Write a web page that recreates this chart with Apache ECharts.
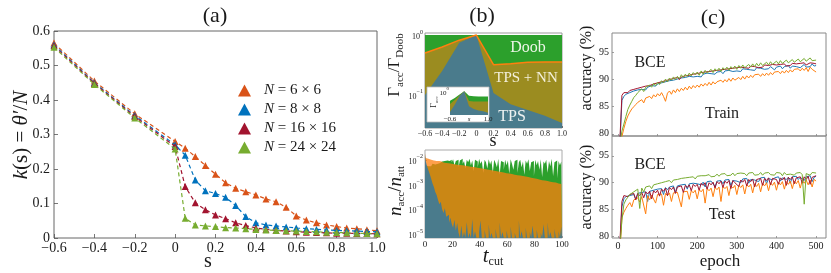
<!DOCTYPE html>
<html><head><meta charset="utf-8">
<script src="https://cdn.jsdelivr.net/npm/echarts@6/dist/echarts.min.js"></script>
<style>html,body{margin:0;padding:0;background:#fff}#c{width:831px;height:273px}</style>
</head><body><div id="c"></div>
<script>
// ---------- Panel (a) ----------
const S_A = [-0.6,-0.4,-0.2,0,0.05,0.1,0.15,0.2,0.25,0.3,0.35,0.4,0.45,0.5,0.55,0.6,0.65,0.7,0.75,0.8,0.85,0.9,0.95,1.0];
const K_6 = [0.565,0.455,0.36,0.28,0.26,0.236,0.21,0.185,0.16,0.144,0.134,0.125,0.113,0.105,0.089,0.064,0.052,0.044,0.038,0.033,0.029,0.027,0.024,0.021];
const K_8 = [0.56,0.45,0.355,0.27,0.24,0.168,0.137,0.129,0.118,0.094,0.062,0.044,0.038,0.035,0.032,0.029,0.027,0.025,0.023,0.022,0.021,0.02,0.019,0.018];
const K_16 = [0.557,0.448,0.352,0.265,0.149,0.102,0.082,0.067,0.056,0.044,0.036,0.029,0.025,0.022,0.02,0.018,0.017,0.016,0.015,0.014,0.014,0.013,0.013,0.012];
const K_24 = [0.553,0.445,0.348,0.258,0.057,0.038,0.035,0.033,0.03,0.029,0.027,0.025,0.023,0.022,0.021,0.02,0.019,0.018,0.017,0.016,0.015,0.014,0.013,0.012];
const NAMES_A = ['N = 6 × 6','N = 8 × 8','N = 16 × 16','N = 24 × 24'];

// ---------- Panel (b) top: ratios ----------
const S_B = [-0.6,-0.4,-0.2,0,0.2,0.4,0.6,0.8,1.0];
const R_DOOB = [1,1,1,1,1,1,1,1,1];
const R_NN = [0.5,0.63,0.82,1.0,0.32,0.33,0.35,0.355,0.355];
const R_TPS = [0.1,0.25,0.74,1.0,0.108,0.07,0.056,0.045,0.034];
// inset: absolute acceptance rates
const IN_DOOB = [0.14,0.25,0.5,1.0,0.4,0.35,0.33,0.33,0.33];
const IN_NN = [0.07,0.16,0.41,1.0,0.13,0.12,0.12,0.12,0.12];
const IN_TPS = [0.013,0.06,0.37,1.0,0.043,0.025,0.018,0.015,0.011];

// ---------- Panel (b) bottom: histograms over t_cut = 0..100 ----------
const T_CUT = Array.from({length:101},(_,i)=>i);
const H_DOOB = [1.4e-2,6e-3,5.5e-3,6.5e-3,5.5e-3,6e-3,7e-3,6.5e-3,7.5e-3,7e-3,
 8e-3,7.5e-3,8.5e-3,8e-3,9e-3,7.5e-3,9.5e-3,8.5e-3,9e-3,1e-2,
 8e-3,1.05e-2,6e-3,9e-3,1e-2,5e-3,9.5e-3,1.1e-2,7e-3,9e-3,
 4.5e-3,1e-2,8e-3,1.1e-2,6e-3,9.5e-3,3.5e-3,1e-2,8.5e-3,5e-3,
 1.1e-2,7e-3,9e-3,3e-3,1e-2,8e-3,4.5e-3,1.05e-2,6.5e-3,9.5e-3,
 3e-3,1e-2,7.5e-3,5e-3,1.1e-2,2.5e-3,9e-3,8e-3,4e-3,1e-2,
 6e-3,9.5e-3,2.8e-3,1.05e-2,7e-3,4e-3,9e-3,1e-2,3e-3,8e-3,
 1e-2,5e-3,8.5e-3,2.5e-3,9.5e-3,7e-3,1.05e-2,3.5e-3,8e-3,9e-3,
 2.2e-3,1e-2,6e-3,9e-3,4e-3,1.05e-2,2e-3,8.5e-3,7e-3,1e-2,
 3e-3,9e-3,5.5e-3,1.1e-2,2.2e-3,8e-3,9.5e-3,1.8e-3,9e-3,6e-3,8.5e-3];
const H_NN = [1.8e-2,1.2e-2,1.1e-2,1.15e-2,1.0e-2,1.05e-2,9.5e-3,1.0e-2,9e-3,8.5e-3,
 9e-3,8e-3,8.5e-3,7.8e-3,8.2e-3,7.5e-3,7.8e-3,7.2e-3,7.6e-3,7e-3,
 7.2e-3,6.6e-3,7e-3,6.4e-3,6.8e-3,6.2e-3,6.5e-3,6e-3,6.3e-3,5.8e-3,
 6e-3,5.5e-3,5.8e-3,5.3e-3,5.6e-3,5.1e-3,5.3e-3,4.9e-3,5.1e-3,4.7e-3,
 4.9e-3,4.5e-3,4.7e-3,4.3e-3,4.5e-3,4.1e-3,4.3e-3,3.9e-3,4.1e-3,3.7e-3,
 3.9e-3,3.5e-3,3.7e-3,3.4e-3,3.5e-3,3.2e-3,3.4e-3,3.1e-3,3.2e-3,2.9e-3,
 3.1e-3,2.8e-3,2.9e-3,2.7e-3,2.8e-3,2.5e-3,2.7e-3,2.4e-3,2.5e-3,2.3e-3,
 2.4e-3,2.2e-3,2.3e-3,2.1e-3,2.2e-3,2e-3,2.1e-3,1.9e-3,2e-3,1.8e-3,
 1.9e-3,1.7e-3,1.8e-3,1.6e-3,1.7e-3,1.5e-3,1.6e-3,1.45e-3,1.5e-3,1.4e-3,
 1.45e-3,1.3e-3,1.4e-3,1.25e-3,1.3e-3,1.2e-3,1.25e-3,1.1e-3,1.2e-3,1.05e-3,1.1e-3];
const H_TPS = [1.6e-2,9e-3,5.5e-3,3.8e-3,2.6e-3,1.7e-3,1.1e-3,8e-4,5e-4,3.8e-4,
 2.4e-4,1.6e-4,2e-4,1e-4,7e-5,1.1e-4,5e-5,6e-5,2.8e-5,4.5e-5,
 2.6e-5,1.8e-5,3.8e-5,1.4e-5,2.8e-5,1.1e-5,7e-6,2.2e-5,7e-6,1.2e-5,
 7e-6,3e-5,7e-6,1.1e-5,7e-6,4e-5,7e-6,1.3e-5,7e-6,7e-6,
 1.2e-5,3.5e-5,7e-6,7e-6,1.5e-5,7e-6,7e-6,2.5e-5,7e-6,1.1e-5,
 7e-6,7e-6,1.6e-5,7e-6,7e-6,3e-5,7e-6,1.2e-5,7e-6,7e-6,
 1.4e-5,7e-6,7e-6,2e-5,7e-6,7e-6,1.1e-5,7e-6,7e-6,3.5e-5,
 7e-6,1.3e-5,7e-6,7e-6,1.8e-5,7e-6,7e-6,1.2e-5,7e-6,2.2e-5,
 7e-6,7e-6,1.5e-5,7e-6,7e-6,1.1e-5,7e-6,2.5e-5,7e-6,7e-6,
 3e-5,7e-6,1.2e-5,7e-6,7e-6,1.6e-5,7e-6,7e-6,1.3e-5,7e-6,2e-5];

// ---------- Panel (c): accuracy vs epoch (sampled every 5 epochs) ----------
const EPOCHS = Array.from({length:100},(_,i)=>5*(i+1));
const TR_BLUE = [78.0,86.2,86.9,87.3,87.1,87.6,87.4,87.9,87.6,88.1,
 87.8,88.2,88.5,88.1,88.6,88.4,88.9,88.6,88.8,89.2,
 88.9,89.4,89.1,89.6,89.3,89.8,89.5,89.9,89.7,90.1,
 89.8,90.3,90.0,90.4,90.2,90.6,90.3,90.5,90.8,90.6,
 90.9,90.5,91.0,90.8,91.2,90.9,91.1,91.3,91.0,91.4,
 91.2,91.5,91.1,91.6,91.3,91.7,91.4,91.5,91.8,91.6,
 91.9,91.5,92.0,91.7,91.9,92.1,91.8,92.0,91.7,92.2,
 91.9,92.1,92.3,91.9,92.2,92.0,92.4,92.1,91.8,92.3,
 92.2,92.5,92.0,92.4,92.2,92.6,92.1,92.5,92.3,92.4,
 92.7,92.2,92.5,92.8,92.3,92.6,92.4,92.9,92.5,92.6];
const TR_RED = [79.0,87.1,87.6,87.9,87.6,88.0,87.8,88.2,87.9,88.4,
 88.1,88.6,88.3,88.8,88.5,88.9,88.7,89.2,88.9,89.4,
 89.1,89.6,89.3,89.8,89.5,90.0,89.7,90.2,89.9,90.4,
 90.0,90.5,90.2,90.7,90.4,90.8,90.5,91.0,90.7,91.1,
 90.8,91.3,91.0,91.4,91.1,91.5,91.2,91.6,91.3,91.7,
 91.4,91.8,91.5,91.9,91.6,92.0,91.7,92.1,91.8,92.2,
 91.9,92.3,92.0,92.2,92.4,92.1,92.5,92.2,92.4,92.6,
 92.2,92.5,92.3,92.7,92.4,92.6,92.3,92.8,92.5,92.7,
 92.4,92.8,92.6,92.9,92.5,92.8,92.6,93.0,92.7,92.9,
 92.6,93.0,92.8,93.1,92.7,92.9,93.1,92.8,93.0,92.9];
const TR_GREEN = [78.0,80.5,81.8,83.2,84.5,85.3,86.0,86.7,87.1,87.6,
 87.9,88.3,87.8,88.6,88.4,89.0,88.6,89.3,88.9,89.5,
 89.1,89.8,89.4,90.1,89.6,90.3,89.9,90.5,90.0,90.6,
 90.2,90.9,90.4,91.0,90.6,91.2,90.7,91.3,90.9,91.4,
 90.8,91.6,91.0,91.7,91.2,91.5,91.9,91.3,92.0,91.6,
 92.1,91.5,92.2,91.8,92.3,91.7,92.4,92.0,92.5,91.9,
 92.6,92.1,92.7,92.2,92.5,92.8,92.3,92.9,92.4,93.0,
 92.5,93.1,92.6,92.9,93.2,92.7,93.3,92.8,93.1,93.4,
 92.9,93.5,93.0,93.3,93.6,93.1,93.4,93.7,93.2,93.5,
 93.8,93.3,93.6,93.9,93.4,93.7,94.0,93.5,93.8,93.6];
const TR_ORANGE = [77.0,79.5,81.0,82.3,83.3,84.0,84.6,85.0,85.4,85.8,
 86.1,86.3,85.7,86.6,86.4,86.9,86.5,87.2,86.8,87.4,
 87.0,87.6,86.9,86.0,87.5,87.9,87.3,88.1,87.6,88.3,
 87.8,88.4,88.0,88.6,88.1,88.8,88.3,88.9,88.5,89.0,
 88.6,89.2,88.8,89.3,88.9,89.5,89.0,89.6,89.2,89.6,
 89.3,89.9,89.5,90.0,89.6,90.2,89.7,90.3,89.9,90.1,
 90.4,90.0,90.6,90.1,90.7,90.3,90.8,90.4,90.9,90.6,
 91.0,90.6,91.1,90.7,91.2,90.8,91.3,90.9,91.4,91.1,
 91.5,91.1,91.6,91.2,91.7,91.3,91.8,91.4,91.9,91.6,
 92.0,91.6,92.1,91.7,92.2,91.5,92.3,91.9,92.1,91.4];
const TE_BLUE = [78.0,85.5,87.0,87.4,87.2,87.6,87.3,87.8,86.9,88.0,
 87.7,88.2,87.9,88.3,86.5,88.4,88.1,88.6,88.3,88.8,
 88.5,88.9,87.8,89.1,88.7,89.2,88.9,89.4,88.2,89.4,
 89.1,89.6,89.3,89.7,88.8,89.8,89.5,89.9,89.6,89.8,
 90.0,89.6,90.1,89.2,90.2,89.9,90.3,90.0,89.3,90.3,
 90.1,90.4,89.8,90.5,90.2,90.6,89.5,90.4,90.7,90.3,
 90.6,90.0,90.7,90.4,90.8,89.9,90.6,90.9,90.5,90.7,
 90.2,90.9,90.6,91.0,89.8,90.8,91.0,90.5,90.9,90.7,
 91.1,90.3,90.9,91.1,90.6,91.0,89.9,91.1,90.8,91.2,
 90.6,91.0,91.2,90.4,91.1,90.9,91.3,90.2,91.0,91.2];
const TE_RED = [79.0,86.5,87.6,87.7,87.4,87.8,87.5,88.0,86.8,88.0,
 87.6,88.2,87.2,88.3,87.9,88.4,87.0,88.5,88.1,88.6,
 87.5,88.8,88.4,89.0,87.6,89.1,88.7,89.2,88.0,89.2,
 88.9,89.4,88.2,89.5,89.1,89.6,88.5,89.7,89.3,89.7,
 88.6,89.9,89.5,90.0,88.8,90.0,89.6,90.1,89.0,90.2,
 89.8,90.3,89.1,90.3,89.9,90.4,88.9,90.4,90.0,90.2,
 89.3,90.5,90.1,90.6,89.4,90.6,90.2,90.7,89.2,90.6,
 90.3,90.8,89.5,90.8,90.4,90.9,89.6,90.8,90.5,90.6,
 89.7,90.9,90.5,91.0,89.5,91.0,90.6,91.1,89.8,90.9,
 90.7,91.1,89.9,91.1,90.6,91.2,89.7,91.0,90.8,91.3];
const TE_GREEN = [78.0,83.0,86.0,86.8,87.3,87.8,87.5,88.3,88.0,88.8,
 85.2,89.0,88.3,89.2,89.0,89.4,88.9,89.6,89.3,89.8,
 89.5,90.0,89.7,90.2,89.9,90.4,90.0,90.5,90.3,90.6,
 90.4,90.8,90.5,90.9,90.6,91.0,90.8,91.1,90.7,91.2,
 90.9,91.3,91.0,91.3,91.1,91.5,91.1,91.4,91.2,91.6,
 91.2,91.6,91.3,91.7,91.3,91.6,91.4,91.8,91.3,91.7,
 91.4,91.8,91.5,91.7,91.3,91.8,91.5,91.9,91.4,91.7,
 91.5,91.9,91.4,91.8,91.6,91.9,91.5,91.8,91.4,91.9,
 91.6,91.8,91.3,91.9,91.5,91.8,91.6,91.9,91.4,91.8,
 91.6,91.9,91.5,86.0,91.7,91.8,91.4,91.9,91.6,91.8];
const TE_ORANGE = [77.0,83.5,84.5,85.2,85.8,86.3,85.5,86.8,87.0,87.2,
 86.4,87.4,87.5,84.2,87.6,86.8,87.7,87.4,86.2,87.8,
 87.5,87.9,85.8,88.0,87.6,88.1,86.5,88.1,87.8,88.2,
 87.9,85.5,88.3,88.0,88.4,86.9,88.5,88.1,88.6,87.0,
 88.7,88.3,88.8,86.2,88.9,88.5,89.0,87.4,89.1,88.7,
 89.2,86.5,89.3,88.9,89.3,87.6,89.4,89.0,89.5,87.8,
 89.5,89.1,89.6,87.9,89.7,89.2,89.7,88.1,89.8,89.3,
 89.9,88.3,89.9,89.4,90.0,88.5,90.0,89.5,90.1,88.6,
 90.1,89.6,90.2,88.8,90.2,89.7,90.3,88.9,90.3,89.8,
 90.4,89.0,90.4,89.9,90.5,89.6,90.5,89.2,90.6,90.3];

// ---------- styling ----------
const F = "'Liberation Serif','Times New Roman',serif";
const TXT = '#1a1a1a';
const pair = (xs, ys) => xs.map((x, i) => [x, ys[i]]);
function fmtS(v){ if (Math.abs(v) < 1e-9) return '0'; return (v < 0 ? '−' : '') + Math.abs(v).toFixed(1); }
function fmtPow(v){ const e = Math.log10(v), r = Math.round(e); if (Math.abs(e - r) > 0.02) return ''; return '{b|10}{p|' + (r < 0 ? '−' + (-r) : r) + '}'; }
const powRich = (fs) => ({ b:{fontFamily:F,fontSize:fs,color:TXT,verticalAlign:'bottom',lineHeight:fs+4}, p:{fontFamily:F,fontSize:Math.round(fs*0.7),color:TXT,verticalAlign:'top'} });

function grid(l,t,w,h,bc,z){ return {left:l,top:t,width:w,height:h,show:true,borderColor:bc,borderWidth:1,backgroundColor:'transparent',containLabel:false,outerBoundsMode:'none',z:z||0}; }
function tick(len,c){ return {show:true,inside:true,length:len,lineStyle:{color:c||'#555',width:0.8}}; }
const NOLINE = {show:false, onZero:false};

const chart = echarts.init(document.getElementById('c'), null, {renderer:'canvas'});

const colA = ['#d95319','#0072bd','#a2142f','#77ac30'];
const dataA = [K_6, K_8, K_16, K_24];
const seriesA = dataA.map((d, i) => ({
  name: NAMES_A[i], type:'line', xAxisIndex:0, yAxisIndex:0, data: pair(S_A, d),
  symbol:'triangle', symbolSize:7, itemStyle:{color:colA[i]},
  lineStyle:{color:colA[i], width:1.2, type:[4,3]}, z:3+i
}));

function area(xi, yi, data, color, z){ return {type:'line', xAxisIndex:xi, yAxisIndex:yi, data, symbol:'none', lineStyle:{opacity:0}, areaStyle:{color, opacity:1}, z}; }
function hist(data, color, z){ return {type:'line', step:'middle', xAxisIndex:3, yAxisIndex:3, data: pair(T_CUT, data), symbol:'none', lineStyle:{opacity:0}, areaStyle:{color, opacity:1}, z}; }
function acc(xi, data, color, z){ return {type:'line', xAxisIndex:xi, yAxisIndex:xi, data: pair(EPOCHS, data), symbol:'none', lineStyle:{color, width:1}, z, clip:true}; }

const cB='#1f77b4', cR='#a2142f', cO='#ff7f0e', cG='#77ac30';

const option = {
  animation:false,
  backgroundColor:'#fff',
  grid:[
    grid(54,31,323,207,'#666'),
    grid(425,33,137,95,'#999'),
    grid(450,90,38,25,'#999',6),
    grid(425,150,137,88,'#aaa'),
    grid(612,33,214,103,'#888'),
    grid(612,136,214,102,'#888')
  ],
  legend:{
    data:NAMES_A, orient:'vertical', left:233, top:77, itemWidth:13, itemHeight:12, itemGap:2,
    icon:'triangle', selectedMode:false,
    formatter: n => '{sp|}{i|N}{t|' + n.slice(1) + '}',
    textStyle:{fontFamily:F, fontSize:15, color:TXT, lineHeight:17,
      rich:{sp:{width:8}, i:{fontFamily:F,fontSize:15,fontStyle:'italic',color:TXT,lineHeight:17}, t:{fontFamily:F,fontSize:15,color:TXT,lineHeight:17}}}
  },
  xAxis:[
    {gridIndex:0,type:'value',min:-0.6,max:1.0,interval:0.2,axisLine:NOLINE,axisTick:tick(4),splitLine:{show:false},
      axisLabel:{fontFamily:F,fontSize:14,color:TXT,margin:3,formatter:fmtS}},
    {gridIndex:1,type:'value',min:-0.6,max:1.0,interval:0.2,axisLine:NOLINE,axisTick:tick(2),splitLine:{show:false},
      axisLabel:{fontFamily:F,fontSize:8,color:TXT,margin:2,formatter:fmtS}},
    {gridIndex:2,type:'value',min:-0.6,max:1.0,interval:0.8,axisLine:NOLINE,axisTick:{show:false},splitLine:{show:false},z:6,
      axisLabel:{fontFamily:F,fontSize:7,color:TXT,margin:1,formatter:v=>Math.abs(v-0.2)<1e-6?'{i|s}':fmtS(v),rich:{i:{fontFamily:F,fontSize:7,fontStyle:'italic',color:TXT}}}},
    {gridIndex:3,type:'value',min:0,max:100,interval:20,axisLine:NOLINE,axisTick:tick(2,'#888'),splitLine:{show:false},
      axisLabel:{fontFamily:F,fontSize:9,color:TXT,margin:2}},
    {gridIndex:4,type:'value',min:-15,max:525,splitNumber:5,axisLine:NOLINE,axisTick:tick(2,'#888'),splitLine:{show:false},
      axisLabel:{show:false}},
    {gridIndex:5,type:'value',min:-15,max:525,splitNumber:5,axisLine:NOLINE,axisTick:tick(2,'#888'),splitLine:{show:false},
      axisLabel:{fontFamily:F,fontSize:10,color:TXT,margin:3,showMinLabel:false,showMaxLabel:false}}
  ],
  yAxis:[
    {gridIndex:0,type:'value',min:0,max:0.6,interval:0.1,axisLine:NOLINE,axisTick:tick(4),splitLine:{show:false},
      axisLabel:{fontFamily:F,fontSize:14,color:TXT,margin:4,formatter:v=>v===0?'0':v.toFixed(1)}},
    {gridIndex:1,type:'log',logBase:10,min:0.028,max:1.08,splitNumber:2,axisLine:NOLINE,axisTick:{show:false},splitLine:{show:false},
      axisLabel:{margin:2,showMinLabel:false,showMaxLabel:false,formatter:fmtPow,rich:powRich(8)}},
    {gridIndex:2,type:'log',logBase:10,min:0.007,max:1.3,splitNumber:1,axisLine:NOLINE,axisTick:{show:false},splitLine:{show:false},z:6,
      axisLabel:{margin:1,showMinLabel:false,showMaxLabel:false,formatter:fmtPow,rich:powRich(7)}},
    {gridIndex:3,type:'log',logBase:10,min:6.9e-6,max:0.025,splitNumber:4,axisLine:NOLINE,axisTick:tick(2,'#888'),splitLine:{show:false},
      axisLabel:{margin:2,showMinLabel:false,showMaxLabel:false,formatter:fmtPow,rich:powRich(8)}},
    {gridIndex:4,type:'value',min:79.6,max:98.6,splitNumber:4,axisLine:NOLINE,axisTick:tick(2,'#888'),splitLine:{show:false},
      axisLabel:{fontFamily:F,fontSize:10,color:TXT,margin:3,showMinLabel:false,showMaxLabel:false}},
    {gridIndex:5,type:'value',min:79.7,max:98.7,splitNumber:4,axisLine:NOLINE,axisTick:tick(2,'#888'),splitLine:{show:false},
      axisLabel:{fontFamily:F,fontSize:10,color:TXT,margin:3,showMinLabel:false,showMaxLabel:false}}
  ],
  series:[
    ...seriesA,
    area(1,1,pair(S_B,R_DOOB),'#2ca02c',2),
    area(1,1,pair(S_B,R_NN),'#9b8c20',3),
    area(1,1,pair(S_B,R_TPS),'#4a7b8c',4),
    {type:'line',xAxisIndex:1,yAxisIndex:1,data:pair(S_B,R_NN),symbol:'none',lineStyle:{color:'#ff7f0e',width:1.5},z:5},
    area(2,2,pair(S_B,IN_DOOB),'#2ca02c',7),
    area(2,2,pair(S_B,IN_NN),'#9b8c20',8),
    area(2,2,pair(S_B,IN_TPS),'#4a7b8c',9),
    hist(H_DOOB,'#2ca02c',2),
    hist(H_NN,'rgba(255,127,14,0.75)',3),
    hist(H_TPS,'rgba(31,119,180,0.75)',4),
    acc(4,TR_BLUE,cB,2), acc(4,TR_ORANGE,cO,3), acc(4,TR_RED,cR,4), acc(4,TR_GREEN,cG,5),
    acc(5,TE_BLUE,cB,2), acc(5,TE_ORANGE,cO,3), acc(5,TE_RED,cR,4), acc(5,TE_GREEN,cG,5)
  ],
  graphic:[
    {type:'rect',shape:{x:427,y:87,width:62,height:35},style:{fill:'#fff',stroke:'#bbb',lineWidth:0.8},z:6},
    ...[
      ['(a)',215,16,22],['(b)',482,16,22],['(c)',713,18,22]
    ].map(([t,x,y,fs])=>({type:'text',x,y,z:20,style:{text:t,fontFamily:F,fontSize:fs,fill:TXT,align:'center',verticalAlign:'middle'}})),
    {type:'text',x:21,y:135,rotation:Math.PI/2,z:20,style:{text:'{i|k}{r|(s) = }{i|θ′}{r|/}{i|N}',align:'center',verticalAlign:'middle',
      rich:{i:{fontFamily:F,fontSize:21,fontStyle:'italic',fill:TXT},r:{fontFamily:F,fontSize:21,fill:TXT}}}},
    {type:'text',x:208,y:262,z:20,style:{text:'s',fontFamily:F,fontSize:20,fill:TXT,align:'center',verticalAlign:'middle'}},
    {type:'text',x:395,y:65,rotation:Math.PI/2,z:20,style:{text:'{m|Γ}{s|acc}{m|/Γ}{s|Doob}',align:'center',verticalAlign:'middle',
      rich:{m:{fontFamily:F,fontSize:17,fill:TXT,lineHeight:22},s:{fontFamily:F,fontSize:11,fill:TXT,verticalAlign:'bottom'}}}},
    {type:'text',x:493,y:141,z:20,style:{text:'s',fontFamily:F,fontSize:18,fill:TXT,align:'center',verticalAlign:'middle'}},
    {type:'text',x:528,y:48,z:20,style:{text:'Doob',fontFamily:F,fontSize:16,fill:'#eef6e8',align:'center',verticalAlign:'middle'}},
    {type:'text',x:526,y:78,z:20,style:{text:'TPS + NN',fontFamily:F,fontSize:15,fill:'#f4f0dc',align:'center',verticalAlign:'middle'}},
    {type:'text',x:512,y:117,z:20,style:{text:'TPS',fontFamily:F,fontSize:16,fill:'#eef2f2',align:'center',verticalAlign:'middle'}},
    {type:'text',x:434,y:102,rotation:Math.PI/2,z:20,style:{text:'{m|Γ}{s|acc}',align:'center',verticalAlign:'middle',
      rich:{m:{fontFamily:F,fontSize:8,fill:TXT,lineHeight:10},s:{fontFamily:F,fontSize:5,fill:TXT,verticalAlign:'bottom'}}}},
    {type:'text',x:396,y:191,rotation:Math.PI/2,z:20,style:{text:'{i|n}{s|acc}{m|/}{i|n}{s|att}',align:'center',verticalAlign:'middle',
      rich:{i:{fontFamily:F,fontSize:19,fontStyle:'italic',fill:TXT,lineHeight:22},m:{fontFamily:F,fontSize:19,fill:TXT,lineHeight:22},s:{fontFamily:F,fontSize:11,fill:TXT,verticalAlign:'bottom'}}}},
    {type:'text',x:493,y:256,z:20,style:{text:'{i|t}{s|cut}',align:'center',verticalAlign:'middle',
      rich:{i:{fontFamily:F,fontSize:21,fontStyle:'italic',fill:TXT,lineHeight:24},s:{fontFamily:F,fontSize:12,fill:TXT,verticalAlign:'bottom'}}}},
    {type:'text',x:587,y:68,rotation:Math.PI/2,z:20,style:{text:'accuracy (%)',fontFamily:F,fontSize:16,fill:TXT,align:'center',verticalAlign:'middle'}},
    {type:'text',x:587,y:187,rotation:Math.PI/2,z:20,style:{text:'accuracy (%)',fontFamily:F,fontSize:16,fill:TXT,align:'center',verticalAlign:'middle'}},
    {type:'text',x:650,y:63,z:20,style:{text:'BCE',fontFamily:F,fontSize:16,fill:TXT,align:'center',verticalAlign:'middle'}},
    {type:'text',x:722,y:114,z:20,style:{text:'Train',fontFamily:F,fontSize:16,fill:TXT,align:'center',verticalAlign:'middle'}},
    {type:'text',x:650,y:165,z:20,style:{text:'BCE',fontFamily:F,fontSize:16,fill:TXT,align:'center',verticalAlign:'middle'}},
    {type:'text',x:722,y:215,z:20,style:{text:'Test',fontFamily:F,fontSize:16,fill:TXT,align:'center',verticalAlign:'middle'}},
    {type:'text',x:720,y:262,z:20,style:{text:'epoch',fontFamily:F,fontSize:17,fill:TXT,align:'center',verticalAlign:'middle'}}
  ]
};
chart.setOption(option);
</script></body></html>
